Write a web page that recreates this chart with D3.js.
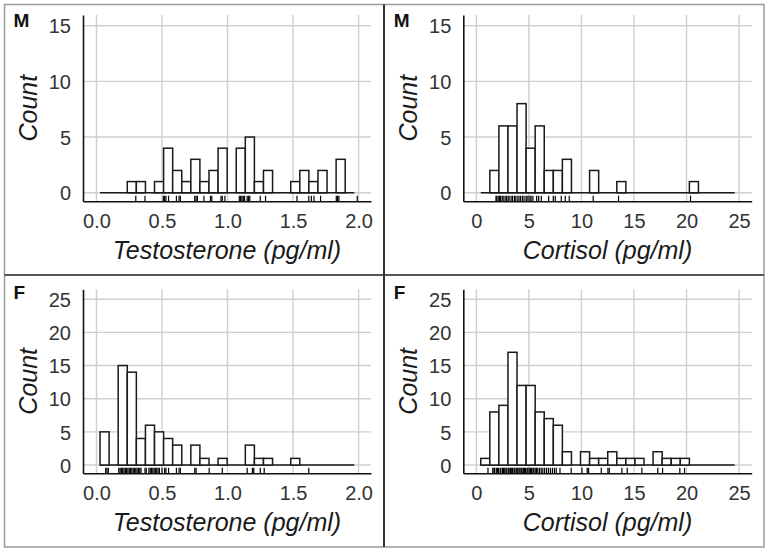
<!DOCTYPE html>
<html>
<head>
<meta charset="utf-8">
<script src="https://cdn.jsdelivr.net/npm/d3@7"></script>
<style>
  html, body { margin: 0; padding: 0; background: #fff; }
  svg { display: block; }
  text { font-family: "Liberation Sans", Arial, Helvetica, sans-serif; }
</style>
</head>
<body>
<svg id="chart" width="768" height="552"></svg>
<script>
// ---------------- data ----------------
const testosteroneBinStart = 0.027;
const testosteroneBinWidth = 0.0693;
const cortisolBinStart = 0.42;
const cortisolBinWidth = 0.863;

const maleTestosteroneCounts   = [0,0,0,1,1,0,1,4,2,1,3,1,2,4,0,4,5,1,2,0,0,1,2,1,2,0,3,0];
const maleCortisolCounts       = [0,2,6,6,8,4,6,2,2,3,0,0,2,0,0,1,0,0,0,0,0,0,0,1,0,0,0,0];
const femaleTestosteroneCounts = [5,0,15,14,4,6,5,4,3,0,3,1,0,1,0,0,3,1,1,0,0,1,0,0,0,0,0,0];
const femaleCortisolCounts     = [1,8,9,17,12,12,8,7,6,2,0,2,1,1,2,1,1,1,0,2,1,1,1,0,0,0,0,0];

const maleTestosteroneRug = [0.30,0.37,0.51,0.52,0.53,0.55,0.61,0.63,0.64,0.75,0.76,0.77,0.82,
  0.87,0.88,0.95,0.96,0.98,1.09,1.10,1.11,1.12,1.13,1.15,1.16,1.17,1.25,1.29,1.53,1.62,1.64,
  1.66,1.71,1.83,1.84,1.85,1.99];
const maleCortisolRug = [1.87,1.95,2.08,2.21,2.30,2.46,2.55,2.73,2.86,3.02,3.11,3.30,3.44,3.62,
  3.70,3.88,4.05,4.19,4.37,4.44,4.63,4.80,4.92,5.10,5.21,5.38,5.74,5.93,6.18,6.88,7.32,7.51,
  8.08,8.46,8.84,11.12,13.53,20.38];
const femaleTestosteroneRug = [0.07,0.08,0.09,0.17,0.18,0.19,0.20,0.21,0.22,0.23,0.24,0.25,
  0.26,0.27,0.28,0.29,0.30,0.31,0.32,0.33,0.34,0.37,0.38,0.40,0.41,0.42,0.43,0.44,0.45,0.46,
  0.47,0.48,0.50,0.52,0.53,0.55,0.61,0.63,0.64,0.75,0.76,0.86,0.96,1.15,1.19,1.20,1.25,1.28,1.62];
const femaleCortisolRug = [1.11,1.56,1.68,1.74,1.90,2.02,2.11,2.27,2.33,2.49,2.58,2.66,2.81,
  2.90,3.04,3.12,3.25,3.37,3.43,3.58,3.66,3.79,3.88,3.95,4.07,4.16,4.28,4.35,4.49,4.57,4.68,
  4.82,4.90,5.03,5.14,5.26,5.39,5.47,5.60,5.72,5.85,6.01,6.17,6.33,6.50,6.68,6.86,7.05,7.24,
  7.43,7.60,7.96,9.03,10.05,10.55,10.68,11.89,12.52,12.65,13.85,14.36,15.75,17.27,17.72,
  19.36,19.81];

const testosteroneTicks = [0.0, 0.5, 1.0, 1.5, 2.0];
const cortisolTicks = [0, 5, 10, 15, 20, 25];
const maleCountTicks = [0, 5, 10, 15];
const femaleCountTicks = [0, 5, 10, 15, 20, 25];

const sexLabels = ["M", "F"];
const xTitles = ["Testosterone (pg/ml)", "Cortisol (pg/ml)"];
const yTitle = "Count";

// ---------------- layout ----------------
const svg = d3.select("#chart");
const colLeft = [83, 463.3], colRight = [371, 751.7];
const rowTop = [15, 289.3], rowBottom = [201.3, 473.3];

const panels = [
  {row:0, col:0, label:sexLabels[0], counts:maleTestosteroneCounts, rug:maleTestosteroneRug,
   start:testosteroneBinStart, width:testosteroneBinWidth, xDomain:[-0.103, 2.095], xTicks:testosteroneTicks,
   xFmt:d3.format(".1f"), yDomain:[-0.77, 15.96], yTicks:maleCountTicks, title:xTitles[0]},
  {row:0, col:1, label:sexLabels[0], counts:maleCortisolCounts, rug:maleCortisolRug,
   start:cortisolBinStart, width:cortisolBinWidth, xDomain:[-1.24, 26.2], xTicks:cortisolTicks,
   xFmt:d3.format("d"), yDomain:[-0.77, 15.96], yTicks:maleCountTicks, title:xTitles[1]},
  {row:1, col:0, label:sexLabels[1], counts:femaleTestosteroneCounts, rug:femaleTestosteroneRug,
   start:testosteroneBinStart, width:testosteroneBinWidth, xDomain:[-0.103, 2.095], xTicks:testosteroneTicks,
   xFmt:d3.format(".1f"), yDomain:[-1.25, 26.5], yTicks:femaleCountTicks, title:xTitles[0]},
  {row:1, col:1, label:sexLabels[1], counts:femaleCortisolCounts, rug:femaleCortisolRug,
   start:cortisolBinStart, width:cortisolBinWidth, xDomain:[-1.24, 26.2], xTicks:cortisolTicks,
   xFmt:d3.format("d"), yDomain:[-1.25, 26.5], yTicks:femaleCountTicks, title:xTitles[1]}
];

// frame
svg.append("rect").attr("x", 4.5).attr("y", 4.5).attr("width", 759.5).attr("height", 542.5)
  .attr("fill", "none").attr("stroke", "#9a9a9a").attr("stroke-width", 1.5);
svg.append("line").attr("x1", 4.5).attr("x2", 764).attr("y1", 275).attr("y2", 275)
  .attr("stroke", "#555").attr("stroke-width", 2);
svg.append("line").attr("x1", 384).attr("x2", 384).attr("y1", 4.5).attr("y2", 547)
  .attr("stroke", "#333").attr("stroke-width", 2);

panels.forEach(p => {
  const L = colLeft[p.col], R = colRight[p.col], T = rowTop[p.row], B = rowBottom[p.row];
  const x = d3.scaleLinear().domain(p.xDomain).range([L, R]);
  const y = d3.scaleLinear().domain(p.yDomain).range([B, T]);
  const g = svg.append("g");

  // grid
  g.selectAll(".gh").data(p.yTicks).join("line")
    .attr("x1", L).attr("x2", R).attr("y1", d => y(d)).attr("y2", d => y(d))
    .attr("stroke", "#cfcfcf").attr("stroke-width", 1.4);
  g.selectAll(".gv").data(p.xTicks).join("line")
    .attr("y1", T).attr("y2", B).attr("x1", d => x(d)).attr("x2", d => x(d))
    .attr("stroke", "#cfcfcf").attr("stroke-width", 1.4);

  // histogram
  const bins = p.counts.map((c, i) => ({x0: p.start + i * p.width, x1: p.start + (i + 1) * p.width, n: c}));
  g.append("line")
    .attr("x1", x(bins[0].x0)).attr("x2", x(bins[bins.length - 1].x1))
    .attr("y1", y(0)).attr("y2", y(0))
    .attr("stroke", "#1a1a1a").attr("stroke-width", 1.5);
  g.selectAll(".bar").data(bins.filter(b => b.n > 0)).join("rect")
    .attr("x", d => x(d.x0)).attr("width", d => x(d.x1) - x(d.x0))
    .attr("y", d => y(d.n)).attr("height", d => y(0) - y(d.n))
    .attr("fill", "#fff").attr("stroke", "#1a1a1a").attr("stroke-width", 1.5);

  // rug
  const rugLen = (B - T) * 0.03;
  g.selectAll(".rug").data(p.rug).join("line")
    .attr("x1", d => x(d)).attr("x2", d => x(d))
    .attr("y1", B - rugLen).attr("y2", B)
    .attr("stroke", "#000").attr("stroke-width", 1.2);

  // axes
  const xAxis = d3.axisBottom(x).tickValues(p.xTicks).tickFormat(p.xFmt).tickSize(0).tickSizeOuter(0).tickPadding(0);
  const ax = g.append("g").attr("transform", `translate(0,${B})`).call(xAxis);
  ax.select(".domain").attr("stroke", "#111").attr("stroke-width", 1.6);
  ax.selectAll("text").attr("dy", null).attr("y", 27).attr("font-size", 20).attr("fill", "#333")
    .attr("font-family", "Liberation Sans, Arial, sans-serif");

  const yAxis = d3.axisLeft(y).tickValues(p.yTicks).tickFormat(d3.format("d")).tickSize(0).tickSizeOuter(0).tickPadding(12);
  const ay = g.append("g").attr("transform", `translate(${L},0)`).call(yAxis);
  ay.select(".domain").attr("stroke", "#111").attr("stroke-width", 1.6);
  ay.selectAll("text").attr("font-size", 20).attr("fill", "#333").attr("dy", "0.36em")
    .attr("font-family", "Liberation Sans, Arial, sans-serif");

  // titles
  g.append("text").attr("x", (L + R) / 2).attr("y", B + 58).attr("text-anchor", "middle")
    .attr("font-size", 25).attr("font-style", "italic").attr("fill", "#1a1a1a").text(p.title);
  g.append("text")
    .attr("transform", `translate(${L - 46.5},${(T + B) / 2}) rotate(-90)`)
    .attr("text-anchor", "middle").attr("font-size", 25).attr("font-style", "italic")
    .attr("fill", "#1a1a1a").text(yTitle);

  // panel letter
  g.append("text").attr("x", L - 69.5).attr("y", T + (p.row === 0 ? 12 : 10))
    .attr("font-size", 19).attr("font-weight", "bold").attr("fill", "#111").text(p.label);
});
</script>
</body>
</html>
